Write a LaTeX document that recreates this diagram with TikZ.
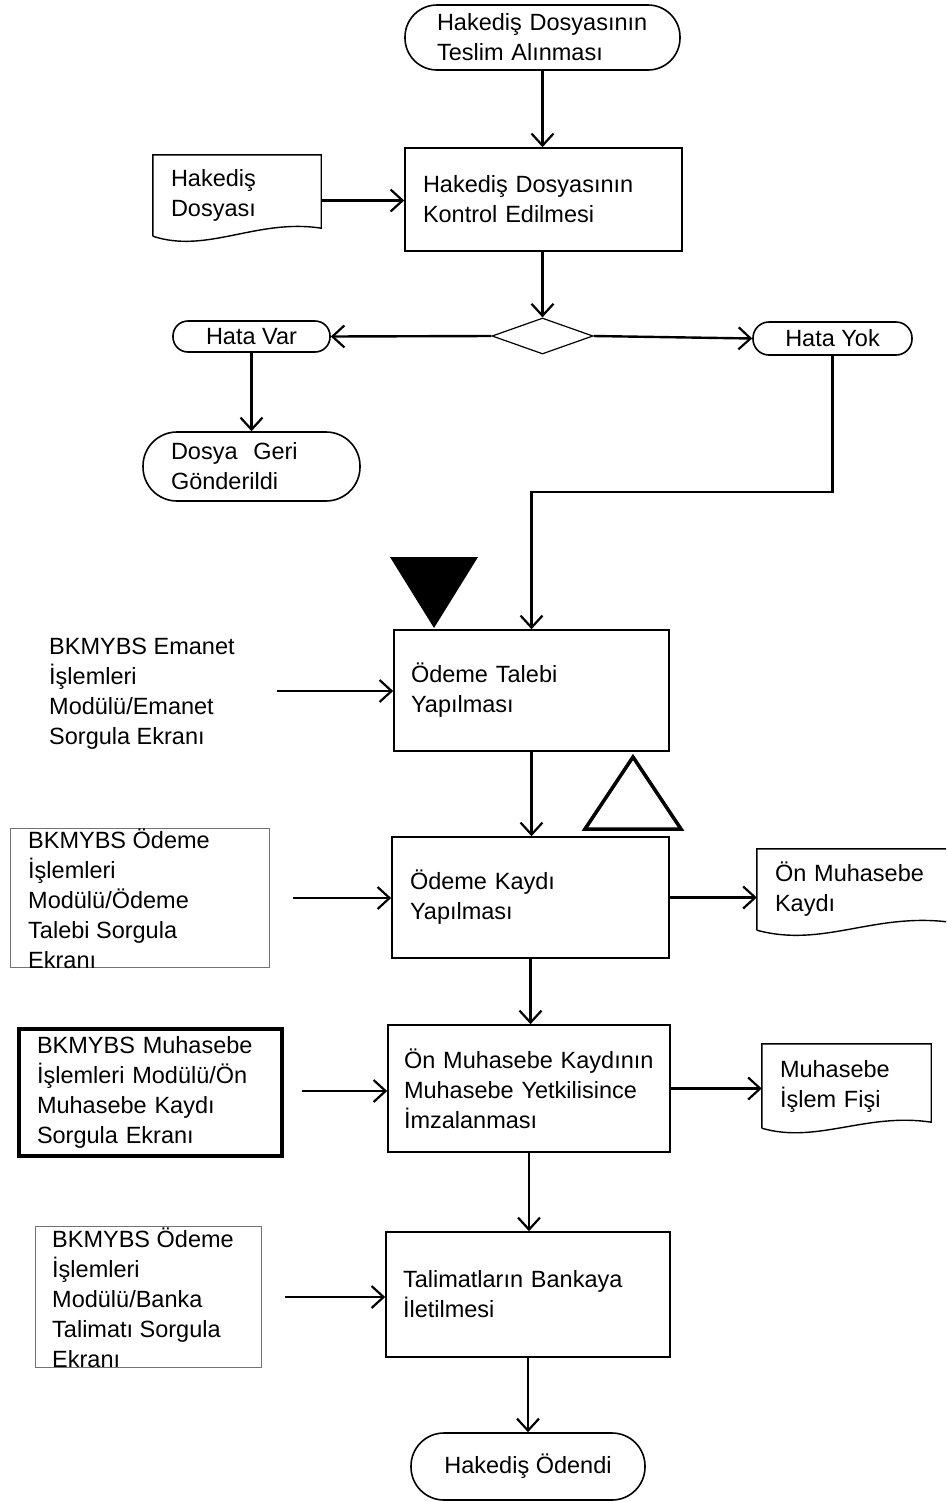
\documentclass[tikz,border=0pt]{standalone}
\usepackage{fontspec}
\setmainfont{Liberation Sans}
\usetikzlibrary{arrows.meta,shapes.geometric,calc}
\begin{document}
\begin{tikzpicture}[x=1pt,y=-1pt, font=\fontsize{23.5}{30}\selectfont,
  box/.style={draw, line width=1.6pt, rectangle, inner sep=0pt, align=left},
  doctext/.style={inner sep=0pt, align=left},
  docline/.style={line width=1.4pt},
  thinbox/.style={draw=black!55, line width=0.9pt},
  arr/.style={line width=2.4pt, -{Straight Barb[length=12pt,width=22pt,line width=2.2pt]}}]
\useasboundingbox (0,0) rectangle (946,1502);
\clip (0,0) rectangle (946,1502);

% top part
\node[box, rounded corners=32pt, minimum width=275pt, minimum height=65pt, text width=211pt] (start) at (542.5,37.5) {Hakediş Dosyasının\\Teslim Alınması};
\node[box, minimum width=277pt, minimum height=103pt, text width=241pt] (kontrol) at (543.5,199.5) {Hakediş Dosyasının\\Kontrol Edilmesi};
\node[doctext, minimum width=168pt, minimum height=81pt, text width=132pt] (hd) at (237,195.5) {Hakediş\\Dosyası};
\draw[docline] (hd.south west) -- (hd.north west) -- (hd.north east) -- ($(hd.south east)+(0,-8)$) .. controls ($(hd.south)+(20,-18)$) and ($(hd.south)+(-30,18)$) .. (hd.south west);

\node[draw, diamond, line width=1.2pt, minimum width=101pt, minimum height=36pt, inner sep=0pt] (dec) at (542.5,336) {};
\node[box, rounded corners=15pt, minimum width=157pt, minimum height=31pt] (hatavar) at (251.5,336.5) {Hata Var};
\node[box, rounded corners=16pt, minimum width=159pt, minimum height=33pt] (hatayok) at (832.5,338.5) {Hata Yok};
\node[box, rounded corners=34pt, minimum width=217pt, minimum height=69pt, text width=161pt] (dosya) at (251.5,466.5) {Dosya\ \ Geri\\Gönderildi};

% middle
\node[box, minimum width=275pt, minimum height=121pt, text width=241pt] (talep) at (531.5,690.5) {Ödeme Talebi\\Yapılması};
\node[doctext, anchor=west] (emanet) at (49,694) {BKMYBS Emanet\\İşlemleri\\Modülü/Emanet\\Sorgula Ekranı};
\fill (390,557) -- (478,557) -- (434,628) -- cycle;
\draw[line width=3.5pt, fill=white] (633,757) -- (681,829) -- (585,829) -- cycle;

\node[box, minimum width=277pt, minimum height=121pt, text width=241pt] (kayit) at (530.5,897.5) {Ödeme Kaydı\\Yapılması};
\draw[thinbox] (10,828) rectangle (269,967);
\node[doctext, anchor=west] (g1) at (28,899) {BKMYBS Ödeme\\İşlemleri\\Modülü/Ödeme\\Talebi Sorgula\\Ekranı};
\node[doctext, minimum width=193pt, minimum height=81pt, text width=157pt] (onm) at (853.5,889.5) {Ön Muhasebe\\Kaydı};
\draw[docline] (onm.south west) -- (onm.north west) -- (onm.north east) -- ($(onm.south east)+(0,-8)$) .. controls ($(onm.south)+(20,-18)$) and ($(onm.south)+(-30,18)$) .. (onm.south west);

\node[box, minimum width=282pt, minimum height=127pt, text width=250pt] (imza) at (529,1088.5) {Ön Muhasebe Kaydının\\Muhasebe Yetkilisince\\İmzalanması};
\node[box, line width=3.5pt, minimum width=263pt, minimum height=127pt, text width=227pt] (g2) at (150.5,1092.5) {BKMYBS Muhasebe\\İşlemleri Modülü/Ön\\Muhasebe Kaydı\\Sorgula Ekranı};
\node[doctext, minimum width=169pt, minimum height=84pt, text width=133pt] (mif) at (846.5,1086) {Muhasebe\\İşlem Fişi};
\draw[docline] (mif.south west) -- (mif.north west) -- (mif.north east) -- ($(mif.south east)+(0,-6)$) .. controls ($(mif.south)+(20,-16)$) and ($(mif.south)+(-30,16)$) .. (mif.south west);

% bottom
\node[box, minimum width=284pt, minimum height=125pt, text width=250pt] (talimat) at (528,1294.5) {Talimatların Bankaya\\İletilmesi};
\draw[thinbox] (35,1226) rectangle (261,1367);
\node[doctext, anchor=west] (g3) at (52,1298) {BKMYBS Ödeme\\İşlemleri\\Modülü/Banka\\Talimatı Sorgula\\Ekranı};
\node[box, rounded corners=33pt, minimum width=234pt, minimum height=67pt] (son) at (528,1466.5) {Hakediş Ödendi};

% connectors
\draw[arr] (start.south) -- (start.south |- kontrol.north);
\coordinate (hde) at ($(hd.east)+(0,5)$);
\draw[arr] (hde) -- (hde -| kontrol.west);
\draw[arr] (dec.north |- kontrol.south) -- (dec.north);
\draw[arr] (dec.west) -- (hatavar.east);
\draw[arr] (dec.east) -- (hatayok.west);
\draw[arr] (hatavar.south) -- (dosya.north);
\coordinate (bend) at (0,492);
\draw[arr] (hatayok.south) -- (hatayok.south |- bend) -| (talep.north);
\coordinate (e1) at (277,691);
\draw[arr] (e1) -- (e1 -| talep.west);
\draw[arr] (talep.south) -- (talep.south |- kayit.north);
\coordinate (e2) at (293,898);
\draw[arr] (e2) -- (e2 -| kayit.west);
\draw[arr] (kayit.east) -- (kayit.east -| onm.west);
\draw[arr] (kayit.south) -- (kayit.south |- imza.north);
\coordinate (e3) at (302,1091);
\draw[arr] (e3) -- (e3 -| imza.west);
\draw[arr] (imza.east) -- (imza.east -| mif.west);
\draw[arr] (imza.south) -- (imza.south |- talimat.north);
\coordinate (e4) at (285,1297);
\draw[arr] (e4) -- (e4 -| talimat.west);
\draw[arr] (talimat.south) -- (talimat.south |- son.north);
\end{tikzpicture}
\end{document}
